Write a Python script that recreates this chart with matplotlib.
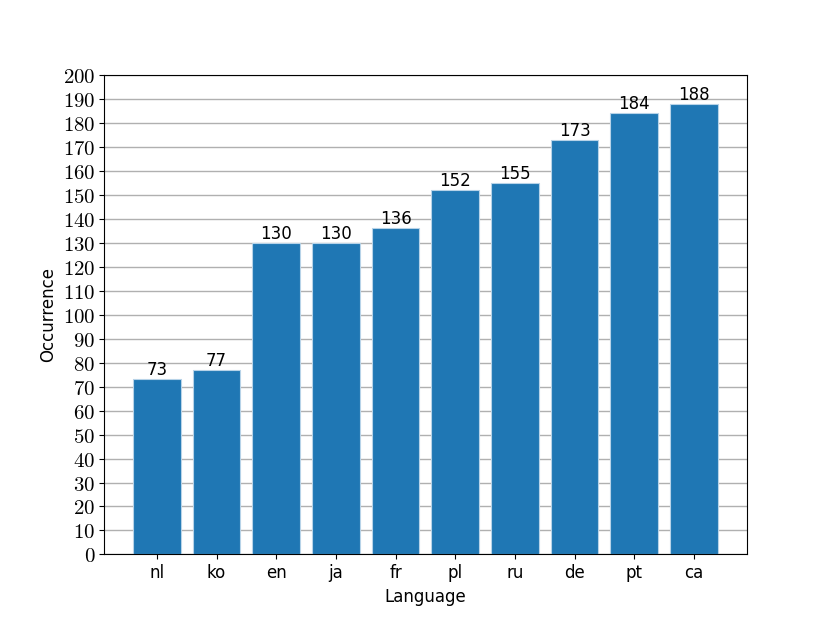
import matplotlib
matplotlib.use("Agg")
import matplotlib.pyplot as plt
from matplotlib.ticker import FuncFormatter

languages = ["nl", "ko", "en", "ja", "fr", "pl", "ru", "de", "pt", "ca"]
occurrences = [73, 77, 130, 130, 136, 152, 155, 173, 184, 188]
yticks = list(range(0, 201, 10))

plt.rcParams["mathtext.fontset"] = "cm"
plt.rcParams["font.family"] = ["DejaVu Sans"]

fig, ax = plt.subplots(figsize=(8.3, 6.23), dpi=100)
ax.set_axisbelow(True)
ax.yaxis.grid(True, color="#b0b0b0", linewidth=1.0)
bars = ax.bar(languages, occurrences, color="#1f77b4", edgecolor="#b7d3e8", linewidth=0.8, width=0.8)
ax.bar_label(bars, labels=[str(v) for v in occurrences], fontsize=12, padding=0)
ax.set_ylim(0, 200)
ax.set_yticks(yticks)
ax.yaxis.set_major_formatter(FuncFormatter(lambda v, p: r"$%d$" % v))
ax.tick_params(axis="y", labelsize=15, pad=2.5)
ax.tick_params(axis="x", labelsize=12)
ax.set_xlabel("Language", fontsize=12)
ax.set_ylabel("Occurrence", fontsize=12)
fig.savefig("out.png", dpi=100)
